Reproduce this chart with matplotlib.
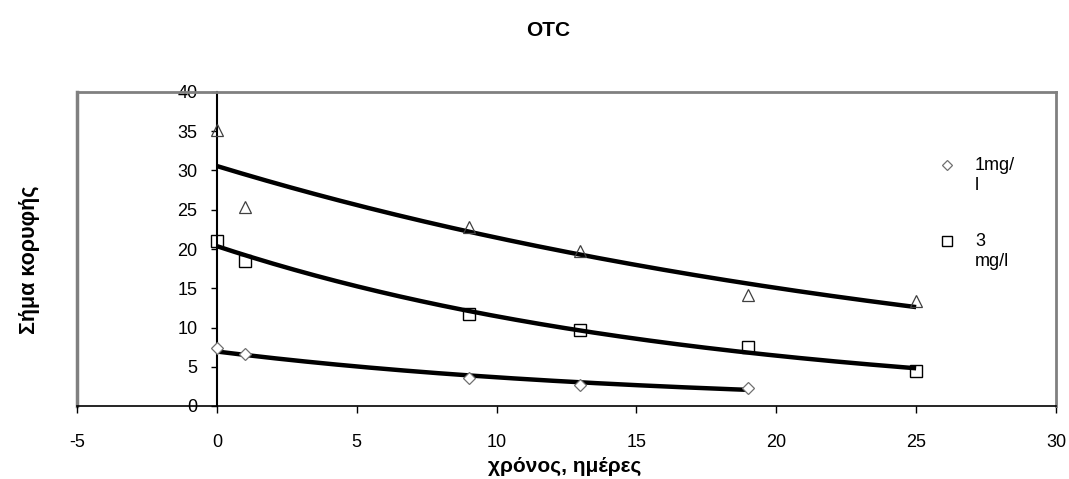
import numpy as np
import matplotlib
matplotlib.use("Agg")
import matplotlib.pyplot as plt
from matplotlib.lines import Line2D

plt.rcParams['font.family'] = ['Liberation Sans', 'DejaVu Sans']
plt.rcParams['axes.unicode_minus'] = False

# Data
days_1 = [0, 1, 9, 13, 19]
signal_1 = [7.4, 6.6, 3.6, 2.7, 2.3]          # 1mg/l (diamonds)
days_3 = [0, 1, 9, 13, 19, 25]
signal_3 = [21.0, 18.5, 11.7, 9.7, 7.5, 4.5]   # 3 mg/l (squares)
days_t = [0, 1, 9, 13, 19, 25]
signal_t = [35.2, 25.4, 22.8, 19.7, 14.1, 13.4]  # third series (triangles)

label_1 = ["1mg/", "l"]
label_3 = ["3", "mg/l"]
title = "OTC"
xlabel = "χρόνος, ημέρες"
ylabel = "Σήμα κορυφής"
xticks = list(range(-5, 31, 5))
yticks = list(range(0, 41, 5))

W, H = 1069, 479
fig = plt.figure(figsize=(W / 100, H / 100), dpi=100)
ax = fig.add_axes([77 / W, (H - 406) / H, (1056 - 77) / W, (406 - 92) / H])

ax.set_xlim(-5, 30)
ax.set_ylim(0, 40)


def exp_trend(x, y):
    x = np.asarray(x, float)
    y = np.asarray(y, float)
    b, a = np.polyfit(x, np.log(y), 1)
    xs = np.linspace(x.min(), x.max(), 200)
    return xs, np.exp(a) * np.exp(b * xs)


for xd, yd in [(days_t, signal_t), (days_3, signal_3), (days_1, signal_1)]:
    xs, ys = exp_trend(xd, yd)
    ax.plot(xs, ys, color='black', lw=3.2, solid_capstyle='butt', zorder=2)

sty_1 = dict(linestyle='none', marker='D', markersize=6,
             markerfacecolor='white', markeredgecolor='#707070',
             markeredgewidth=0.9)
sty_3 = dict(linestyle='none', marker='s', markersize=8,
             markerfacecolor='none', markeredgecolor='black',
             markeredgewidth=1.0)
sty_t = dict(linestyle='none', marker='^', markersize=8,
             markerfacecolor='none', markeredgecolor='#404040',
             markeredgewidth=0.9)

ax.plot(days_1, signal_1, zorder=3, **sty_1)
ax.plot(days_3, signal_3, zorder=3, **sty_3)
ax.plot(days_t, signal_t, zorder=3, **sty_t)

# spines
ax.spines['left'].set_position(('data', 0))
ax.spines['left'].set_color('black')
ax.spines['left'].set_linewidth(1.5)
ax.spines['bottom'].set_color('black')
ax.spines['bottom'].set_linewidth(1.2)
for s in ['top', 'right']:
    ax.spines[s].set_color('#808080')
    ax.spines[s].set_linewidth(2)
# gray left border of the plot area
ax.plot([0, 0], [0, 1], transform=ax.transAxes, color='#808080', lw=2.5,
        clip_on=False, zorder=1)

ax.set_xticks(xticks)
ax.set_yticks(yticks)
ax.tick_params(axis='x', direction='out', length=5, width=1, pad=15,
               labelsize=13)
ax.tick_params(axis='y', direction='out', length=4, width=1, pad=10,
               labelsize=13)

fig.text(548 / W, 1 - 30 / H, title, ha='center', va='center', fontsize=15,
         fontweight='bold')
fig.text(565 / W, 1 - 466 / H, xlabel, ha='center', va='center',
         fontsize=15, fontweight='bold')
fig.text(30 / W, 1 - 260 / H, ylabel, ha='center', va='center',
         rotation=90, fontsize=15.5, fontweight='bold')

# legend (marker aligned with the first line of each wrapped label)
for sty, lines, ytop in [(sty_1, label_1, 165), (sty_3, label_3, 241)]:
    fig.add_artist(Line2D([947 / W], [1 - ytop / H], transform=fig.transFigure,
                          **{**sty, 'markersize': sty['markersize'] - 1}))
    for i, t in enumerate(lines):
        fig.text(975 / W, 1 - (ytop + i * 20) / H, t, ha='left', va='center',
                 fontsize=13)

fig.savefig('out.png', dpi=100, facecolor='white')
